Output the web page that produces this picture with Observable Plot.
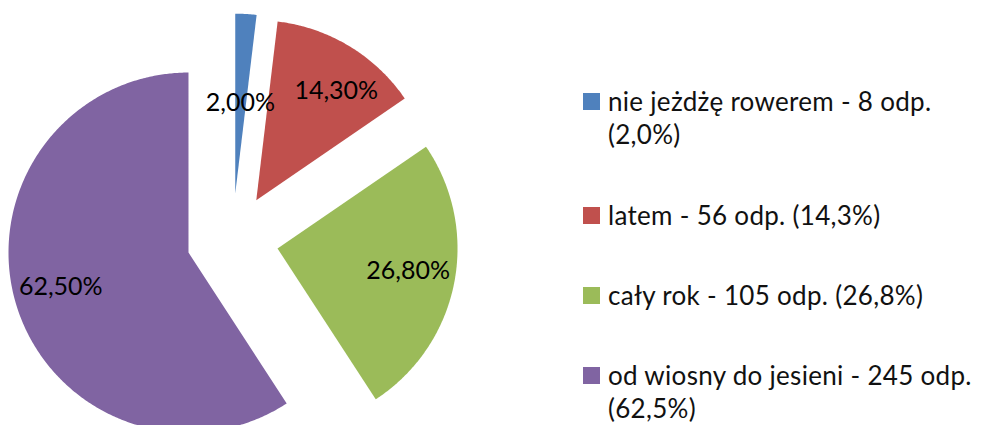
<!DOCTYPE html>
<html>
<head>
<meta charset="utf-8">
<script src="https://cdn.jsdelivr.net/npm/d3@7"></script>
<script src="https://cdn.jsdelivr.net/npm/@observablehq/plot@0.6"></script>
<style>
  html, body { margin: 0; padding: 0; background: #fff; }
  #wrap { position: relative; width: 988px; height: 425px; display: flex; overflow: hidden; }
  #chart { flex: 0 0 575px; }
  #legend { position: relative; flex: 0 0 413px; font-family: Lato, "Open Sans", sans-serif; font-size: 26px; color: #111; }
  .item { position: absolute; left: 8px; width: 400px; display: flex; align-items: flex-start; }
  .sw { flex: 0 0 17px; height: 17px; margin-top: 8px; margin-right: 8px; }
  .txt { line-height: 33px; letter-spacing: 0.3px; }
</style>
</head>
<body>
<div id="wrap"><div id="chart"></div><div id="legend"></div></div>
<script>
const categories = ["nie jeżdżę rowerem", "latem", "cały rok", "od wiosny do jesieni"];
const counts = [8, 56, 105, 245];
const percents = [2.0, 14.3, 26.8, 62.5];
const colors = ["#4F81BD", "#C0504D", "#9BBB59", "#8064A2"];

const data = categories.map((c, i) => ({name: c, count: counts[i], pct: percents[i]}));
const arcs = d3.pie().sort(null).value(d => d.pct)(data);

const R = 180;           // px per unit radius
const cx = 232, cy = 239; // pie centre in px
const W = 575, H = 425;
const explode = 0.255;

const polys = [];
const labels = [];
arcs.forEach(a => {
  const mid = (a.startAngle + a.endAngle) / 2;
  const ox = explode * Math.sin(mid), oy = explode * Math.cos(mid);
  polys.push({name: a.data.name, x: ox, y: oy});
  const n = Math.max(2, Math.ceil((a.endAngle - a.startAngle) / (Math.PI / 360)));
  for (let k = 0; k <= n; k++) {
    const t = a.startAngle + (a.endAngle - a.startAngle) * k / n;
    polys.push({name: a.data.name, x: ox + Math.sin(t), y: oy + Math.cos(t)});
  }
  const frac = (a.endAngle - a.startAngle) / (2 * Math.PI);
  const lr = frac < 0.05 ? 0.49 : 0.74;
  const la = frac > 0.1 && frac < 0.2 ? mid + 0.1 : mid;
  labels.push({
    name: a.data.name,
    x: ox + lr * Math.sin(la),
    y: oy + lr * Math.cos(la),
    text: a.data.pct.toFixed(2).replace(".", ",") + "%"
  });
});

const chart = Plot.plot({
  width: W, height: H,
  margin: 0,
  x: {domain: [-cx / R, (W - cx) / R], axis: null},
  y: {domain: [-(H - cy) / R, cy / R], axis: null},
  color: {domain: categories, range: colors},
  style: {fontFamily: "Lato, 'Open Sans', sans-serif", background: "white"},
  marks: [
    Plot.line(polys, {x: "x", y: "y", z: "name", fill: "name", stroke: "none", curve: "linear"}),
    Plot.text(labels, {x: "x", y: "y", text: "text", fill: "#000", fontSize: 25, dy: -3})
  ]
});
document.getElementById("chart").appendChild(chart);

// legend
const legendTops = [85.2, 198.5, 278.5, 358.5];
const legend = document.getElementById("legend");
data.forEach((d, i) => {
  const item = document.createElement("div");
  item.className = "item";
  item.style.top = legendTops[i] + "px";
  const sw = document.createElement("div");
  sw.className = "sw";
  sw.style.background = colors[i];
  const txt = document.createElement("div");
  txt.className = "txt";
  txt.textContent = `${d.name} - ${d.count} odp. (${d.pct.toFixed(1).replace(".", ",")}%)`;
  item.appendChild(sw);
  item.appendChild(txt);
  legend.appendChild(item);
});
</script>
</body>
</html>
